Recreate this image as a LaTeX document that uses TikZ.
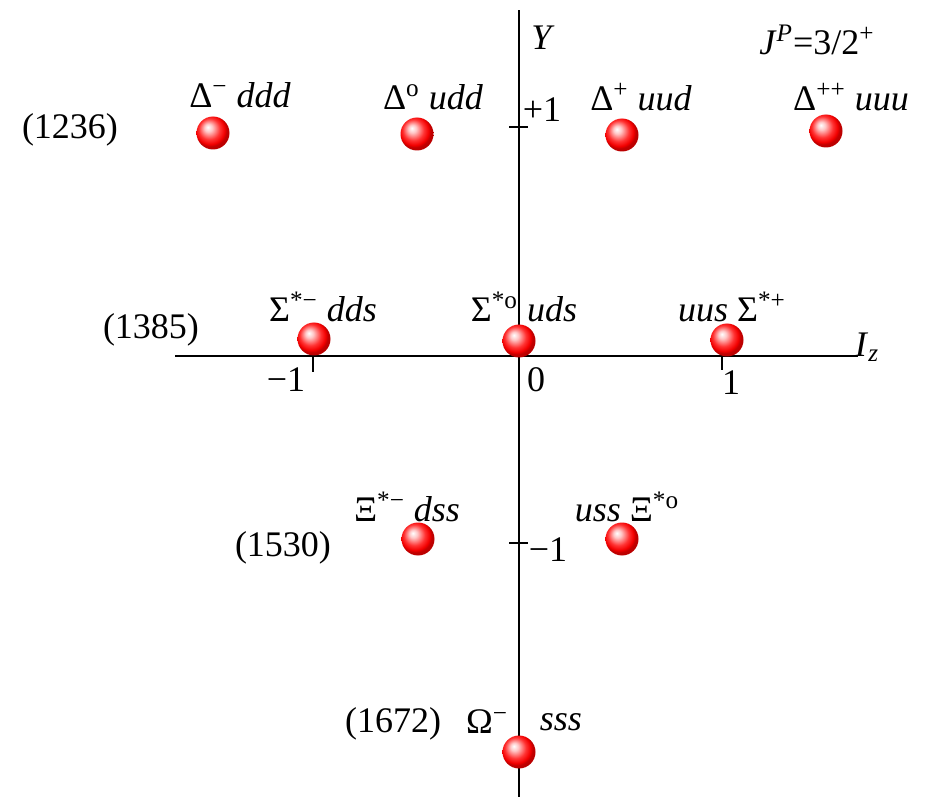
\documentclass[tikz,border=0pt]{standalone}
\usepackage{fontspec}
\setmainfont{Liberation Serif}
\pgfdeclareradialshading{redball}{\pgfpoint{-8bp}{9bp}}{color(0bp)=(white); color(6bp)=(red!22!white); color(16bp)=(red!80!white); color(22bp)=(red!95!black); color(25bp)=(red!75!black); color(50bp)=(red!60!black)}
\tikzset{
  baryon/.style={circle, inner sep=0pt, minimum size=16.5pt, shading=redball},
  lbl/.style={inner sep=0pt, font=\fontsize{18}{20}\selectfont},
}
\begin{document}
\begin{tikzpicture}[x=0.5pt, y=-0.5pt]
            \useasboundingbox (0,0) rectangle (939,797);
            % axes
            \coordinate (ytop) at (519,10);
            \coordinate (ybot) at (519,797);
            \coordinate (xleft) at (175,356);
            \coordinate (xright) at (858,356);
            \draw[line width=1pt] (ybot) -- (ytop);
            \draw[line width=1pt] (xleft) -- (xright);
            % ticks
            \draw[line width=0.8pt] (509,127) -- (528,127);
            \draw[line width=0.8pt] (509,543) -- (528,543);
            \draw[line width=0.8pt] (313,356) -- (313,372);
            \draw[line width=0.8pt] (722,356) -- (722,370);
            \node[lbl] (ylab) at (543,38) {\textit{Y}};
            \node[lbl] (izlab) at (867,347) {\textit{I}\textsubscript{\textit{z}}};
            \node[lbl] (jp) at (817,40) {\textit{J}\textsuperscript{\textit{P}}=3/2\textsuperscript{+}};
            \node[lbl] (yp1) at (542,110) {+1};
            \node[lbl] (ym1) at (548,550) {−1};
            \node[lbl] (xm1) at (286,380) {−1};
            \node[lbl] (x0) at (536,380) {0};
            \node[lbl] (xp1) at (731,383) {1};
            % masses
            \node[lbl] (m1236) at (70,130) {(1236)};
            \node[lbl] (m1385) at (151,330) {(1385)};
            \node[lbl] (m1530) at (283,548) {(1530)};
            \node[lbl] (m1672) at (393,724) {(1672)};
            % decuplet
            \node[baryon] (dm) at (213,133) {};
            \node[baryon] (d0) at (417,134) {};
            \node[baryon] (dp) at (622,135) {};
            \node[baryon] (dpp) at (826,131) {};
            \node[baryon] (sm) at (314,339) {};
            \node[baryon] (s0) at (519,341) {};
            \node[baryon] (sp) at (727,340) {};
            \node[baryon] (xm) at (418,539) {};
            \node[baryon] (x0b) at (622,539) {};
            \node[baryon] (om) at (519,752) {};
            % names
            \node[lbl] (ldm) at (240,95) {Δ\textsuperscript{−} \textit{ddd}};
            \node[lbl] (ld0) at (433,97) {Δ\textsuperscript{o} \textit{udd}};
            \node[lbl] (ldp) at (641,97) {Δ\textsuperscript{+} \textit{uud}};
            \node[lbl] (ldpp) at (851,97) {Δ\textsuperscript{++} \textit{uuu}};
            \node[lbl] (lsm) at (323,307) {Σ\textsuperscript{*−} \textit{dds}};
            \node[lbl] (ls0) at (524,307) {Σ\textsuperscript{*o} \textit{uds}};
            \node[lbl] (lsp) at (732,307) {\textit{uus} Σ\textsuperscript{*+}};
            \node[lbl] (lxm) at (407,507) {Ξ\textsuperscript{*−} \textit{dss}};
            \node[lbl] (lxp) at (627,507) {\textit{uss} Ξ\textsuperscript{*o}};
            \node[lbl] (lom) at (487,722) {Ω\textsuperscript{−}};
            \node[lbl] (lsss) at (561,722) {\textit{sss}};
        \end{tikzpicture}
\end{document}
